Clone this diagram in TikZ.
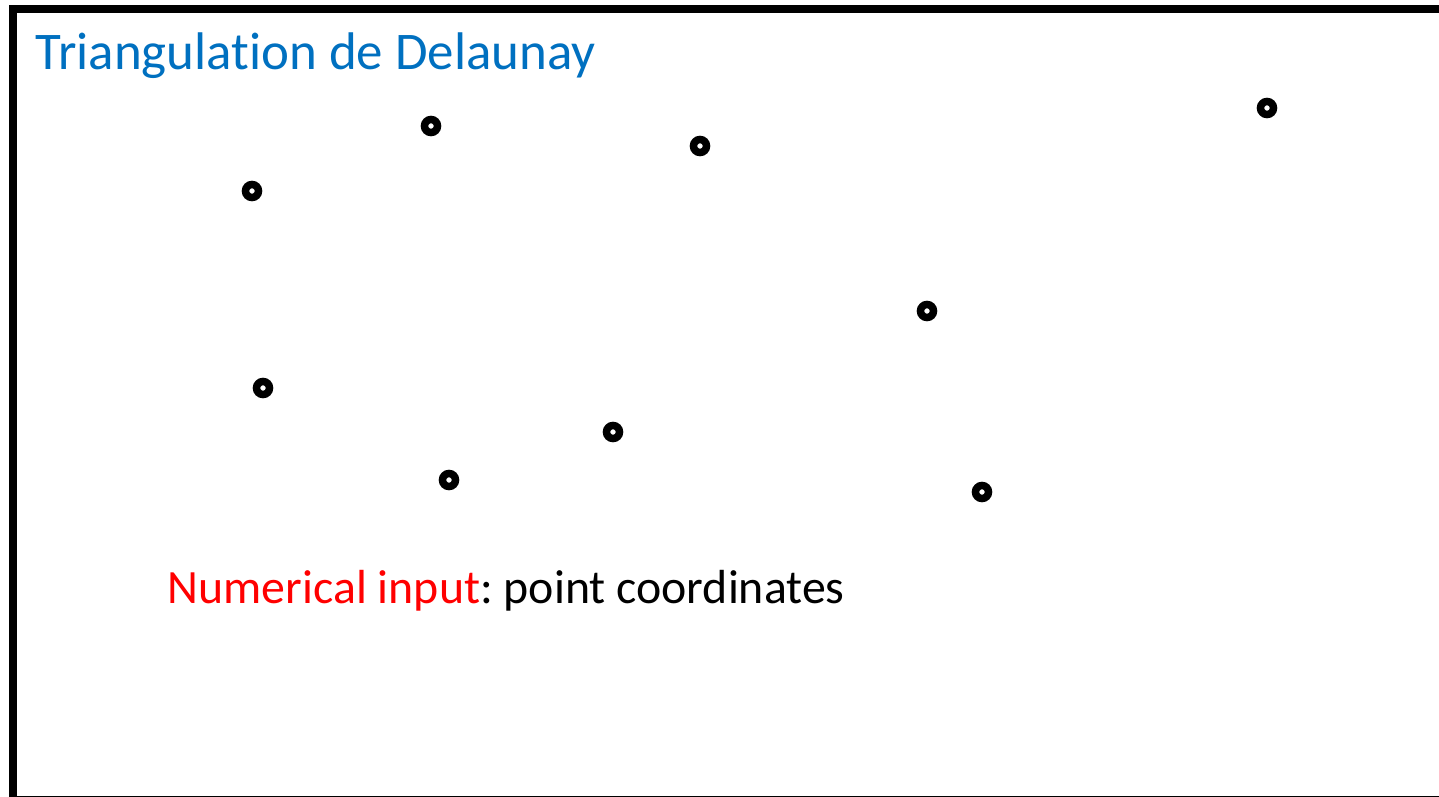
\documentclass[tikz,border=0pt]{standalone}
\usepackage{fontspec}
\setmainfont[Ligatures=CommonOff]{Carlito}
\usepackage{tikz}
\definecolor{titleblue}{HTML}{0070C0}
\definecolor{inputred}{HTML}{FF0000}
\definecolor{ink}{HTML}{000000}
\frenchspacing

\begin{document}
\begin{tikzpicture}[
  x=0.01cm,y=-0.01cm,
  site/.style={circle,draw=ink,fill=white,line width=0.075cm,
               minimum size=0.13cm,inner sep=0pt},
  heading/.style={anchor=base west,inner sep=0pt,color=titleblue,
                  font=\fontsize{15.05}{18}\selectfont},
  caption/.style={anchor=base west,inner sep=0pt,color=ink,
                  font=\fontsize{13.6}{16}\selectfont},
]
\useasboundingbox (0,0) rectangle (1439,797);
\fill[white] (0,0) rectangle (1439,797);

% slide frame
\fill[ink] (9,5) rectangle (1439,13);
\fill[ink] (9,5) rectangle (17,797);
\fill[ink] (9,795.5) rectangle (1439,797);

\node[heading] (title) at (35,70) {Triangulation de Delaunay};

% input points
\node[site] (s1) at (252,191) {};
\node[site] (s2) at (431,126) {};
\node[site] (s3) at (700,146) {};
\node[site] (s4) at (1267,108) {};
\node[site] (s5) at (927,311) {};
\node[site] (s6) at (263,388) {};
\node[site] (s7) at (613,432) {};
\node[site] (s8) at (449,480) {};
\node[site] (s9) at (982,492) {};

\node[caption] (input) at (167,603) {\textcolor{inputred}{Numerical input}: point coordinates};
\end{tikzpicture}
\end{document}
